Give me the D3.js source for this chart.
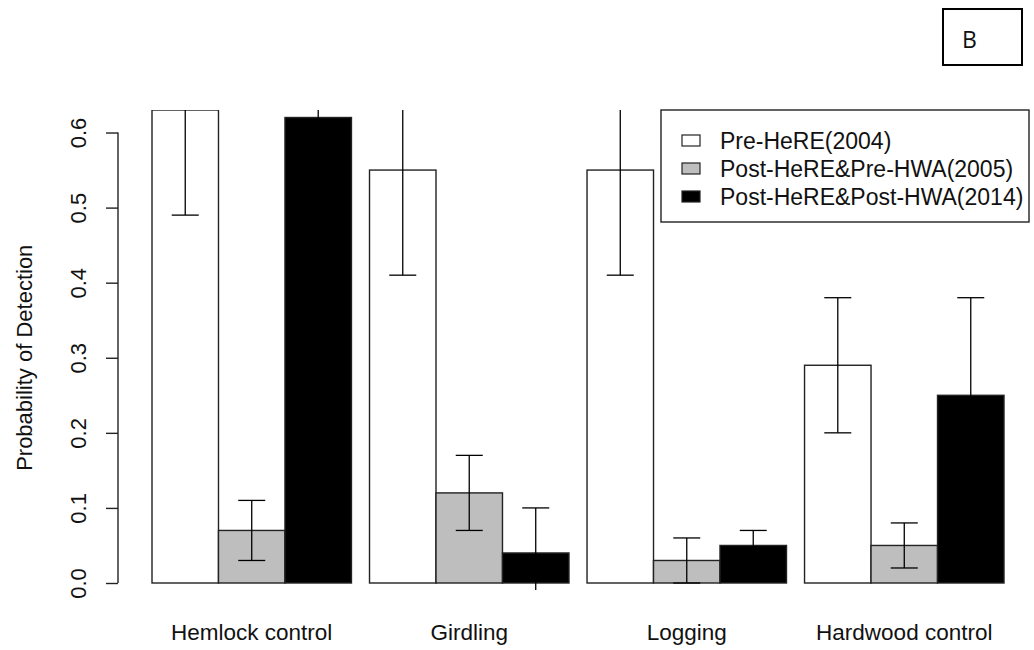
<!DOCTYPE html>
<html>
<head>
<meta charset="utf-8">
<script src="https://cdn.jsdelivr.net/npm/d3@7"></script>
<style>
  body { margin: 0; background: #fff; }
  text { font-family: "Liberation Sans", Arial, sans-serif; fill: #111; }
</style>
</head>
<body>
<div id="chart"></div>
<script>
// Treatments and survey periods
const groups = ['Hemlock control', 'Girdling', 'Logging', 'Hardwood control'];
const periods = ['Pre-HeRE(2004)', 'Post-HeRE&Pre-HWA(2005)', 'Post-HeRE&Post-HWA(2014)'];
const fills = ['#ffffff', '#bebebe', '#000000'];

// Probability of detection per period (rows) and treatment (columns)
const pre2004 = [0.65, 0.55, 0.55, 0.29];
const post2005 = [0.07, 0.12, 0.03, 0.05];
const post2014 = [0.62, 0.04, 0.05, 0.25];

// Error bar limits
const low2004 = [0.49, 0.41, 0.41, 0.20];
const high2004 = [0.81, 0.69, 0.69, 0.38];
const low2005 = [0.03, 0.07, 0.00, 0.02];
const high2005 = [0.11, 0.17, 0.06, 0.08];
const low2014 = [0.55, -0.02, 0.03, 0.12];
const high2014 = [0.69, 0.10, 0.07, 0.38];

const yTicks = [0, 0.1, 0.2, 0.3, 0.4, 0.5, 0.6];
const yMax = 0.63;

const width = 1034, height = 650;
const plotTop = 110, plotBottom = 590;

const values = [pre2004, post2005, post2014];
const lows = [low2004, low2005, low2014];
const highs = [high2004, high2005, high2014];

const data = [];
groups.forEach((g, gi) => {
    periods.forEach((p, pi) => {
        data.push({
            group: g, period: p, fill: fills[pi],
            value: values[pi][gi], lo: lows[pi][gi], hi: highs[pi][gi]
        });
    });
});

const svg = d3.select('#chart')
    .append('svg')
    .attr('width', width)
    .attr('height', height);

const x0 = d3.scaleBand()
    .domain(groups)
    .range([152, 1004])
    .paddingInner(0.083);

const x1 = d3.scaleBand()
    .domain(periods)
    .range([0, x0.bandwidth()]);

const y = d3.scaleLinear()
    .domain([0, yMax])
    .range([583, plotTop]);

// Clip everything to the plot region
svg.append('clipPath')
    .attr('id', 'plot-clip')
    .append('rect')
    .attr('x', 0)
    .attr('y', plotTop)
    .attr('width', width)
    .attr('height', plotBottom - plotTop);

const plot = svg.append('g').attr('clip-path', 'url(#plot-clip)');

// Bars
plot.selectAll('.bar')
    .data(data)
    .join('rect')
    .attr('class', 'bar')
    .attr('x', d => x0(d.group) + x1(d.period))
    .attr('width', x1.bandwidth())
    .attr('y', d => y(Math.min(d.value, yMax)))
    .attr('height', d => y(0) - y(Math.min(d.value, yMax)))
    .attr('fill', d => d.fill)
    .attr('stroke', '#222')
    .attr('stroke-width', 1.4);

// Error bars
const capHalf = 13.5;
const err = plot.selectAll('.err')
    .data(data)
    .join('g')
    .attr('class', 'err')
    .attr('transform', d => `translate(${x0(d.group) + x1(d.period) + x1.bandwidth() / 2},0)`)
    .attr('stroke', '#000')
    .attr('stroke-width', 1.3);

err.append('line')
    .attr('y1', d => y(d.lo))
    .attr('y2', d => y(d.hi));

err.append('line')
    .attr('x1', -capHalf).attr('x2', capHalf)
    .attr('y1', d => y(d.hi)).attr('y2', d => y(d.hi));

err.append('line')
    .attr('x1', -capHalf).attr('x2', capHalf)
    .attr('y1', d => y(d.lo)).attr('y2', d => y(d.lo));

// Y axis
const axisX = 118;
const yAxis = svg.append('g')
    .attr('transform', `translate(${axisX},0)`)
    .call(d3.axisLeft(y).tickValues(yTicks).tickFormat(d3.format('.1f')).tickSize(12))
    .call(g => g.select('.domain').remove());

yAxis.selectAll('.tick line').attr('stroke', '#222').attr('stroke-width', 1.4);
yAxis.selectAll('.tick text')
    .attr('x', 0).attr('dy', 0)
    .attr('transform', 'rotate(-90) translate(0,-32)')
    .attr('text-anchor', 'middle')
    .style('font-size', '22px')
    .style('font-family', '"Liberation Sans", Arial, sans-serif')
    .attr('fill', '#111');

yAxis.append('line')
    .attr('y1', y(yTicks[0]))
    .attr('y2', y(yTicks[yTicks.length - 1]))
    .attr('stroke', '#222')
    .attr('stroke-width', 1.4);

// Y label
svg.append('text')
    .attr('transform', `translate(32,${(y(0) + y(0.6)) / 2}) rotate(-90)`)
    .attr('text-anchor', 'middle')
    .style('font-size', '22px')
    .text('Probability of Detection');

// Group labels
svg.selectAll('.group-label')
    .data(groups)
    .join('text')
    .attr('class', 'group-label')
    .attr('x', d => x0(d) + x0.bandwidth() / 2)
    .attr('y', 640)
    .attr('text-anchor', 'middle')
    .style('font-size', '22.5px')
    .text(d => d);

// Legend
const legend = svg.append('g');
legend.append('rect')
    .attr('x', 661).attr('y', 110)
    .attr('width', 368).attr('height', 112)
    .attr('fill', '#fff')
    .attr('stroke', '#222')
    .attr('stroke-width', 1.4);

const rows = legend.selectAll('.row')
    .data(periods)
    .join('g')
    .attr('class', 'row')
    .attr('transform', (d, i) => `translate(682,${140 + i * 28})`);

rows.append('rect')
    .attr('x', 0).attr('y', -5)
    .attr('width', 18).attr('height', 11)
    .attr('fill', (d, i) => fills[i])
    .attr('stroke', '#222')
    .attr('stroke-width', 1.2);

rows.append('text')
    .attr('x', 38).attr('y', 9)
    .style('font-size', '23px')
    .text(d => d);

// Panel letter
svg.append('rect')
    .attr('x', 943).attr('y', 9)
    .attr('width', 79).attr('height', 56)
    .attr('fill', 'none')
    .attr('stroke', '#000')
    .attr('stroke-width', 2);

svg.append('text')
    .attr('x', 962).attr('y', 48)
    .style('font-size', '23px')
    .style('font-family', '"Open Sans", "Liberation Sans", sans-serif')
    .attr('fill', '#000')
    .text('B');
</script>
</body>
</html>
